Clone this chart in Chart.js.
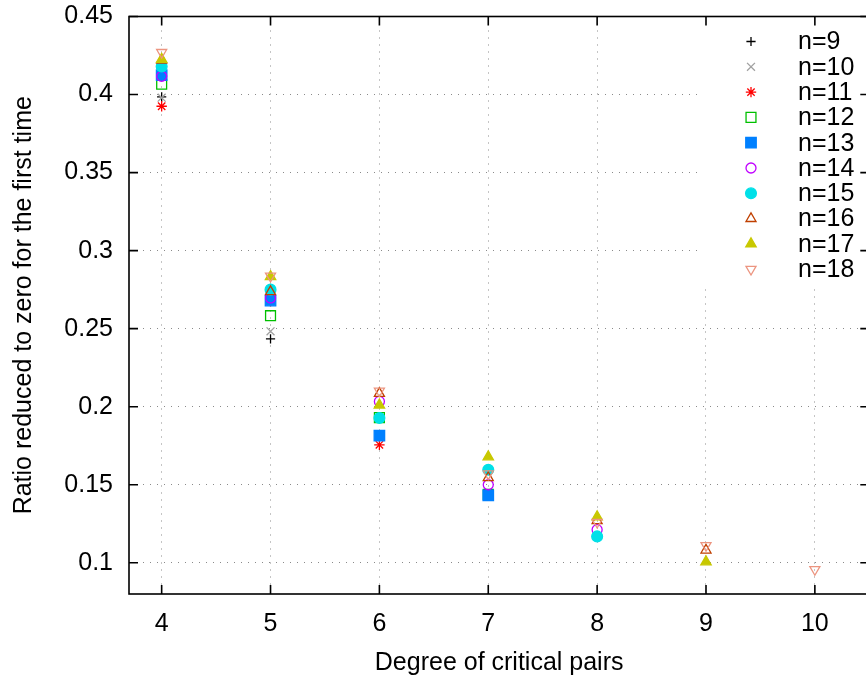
<!DOCTYPE html>
<html>
<head>
<meta charset="utf-8">
<title>Ratio reduced to zero for the first time</title>
<script src="https://cdn.jsdelivr.net/npm/chart.js@4/dist/chart.umd.min.js"></script>
<style>
  html, body { margin: 0; padding: 0; background: #ffffff; overflow: hidden; }
  #wrap { width: 866px; height: 677px; overflow: hidden; }
  #c { display: block; }
</style>
</head>
<body>
<div id="wrap"><canvas id="c" width="878" height="677"></canvas></div>
<script>
// Degree of critical pairs (x) and the ratio for each problem size n.
const degrees = [4, 5, 6, 7, 8, 9, 10];
const seriesNames = ['n=9', 'n=10', 'n=11', 'n=12', 'n=13', 'n=14', 'n=15', 'n=16', 'n=17', 'n=18'];
const n9  = [0.3985, 0.2434];
const n10 = [0.3980, 0.2483];
const n11 = [0.3925, 0.2675, 0.1756];
const n12 = [0.4066, 0.2583, 0.1930, 0.1438];
const n13 = [0.4124, 0.2680, 0.1814, 0.1432];
const n14 = [0.4117, 0.2697, 0.2034, 0.1500, 0.1212];
const n15 = [0.4180, 0.2750, 0.1928, 0.1596, 0.1169];
const n16 = [0.4220, 0.2737, 0.2085, 0.1545, 0.1270, 0.1081];
const n17 = [0.4226, 0.2833, 0.2011, 0.1679, 0.1295, 0.1006];
const n18 = [0.4270, 0.2837, 0.2101, 0.1570, 0.1260, 0.1111, 0.0957];
const seriesValues = [n9, n10, n11, n12, n13, n14, n15, n16, n17, n18];

const xTicks = [4, 5, 6, 7, 8, 9, 10];
const yTicks = [0.1, 0.15, 0.2, 0.25, 0.3, 0.35, 0.4, 0.45];

// Marker look for each series, in the same order as seriesNames.
const markers = [
  { color: '#000000', style: 'cross',    radius: 4.6, fill: false },
  { color: '#a0a0a0', style: 'crossRot', radius: 5.6, fill: false },
  { color: '#ff0000', style: 'star',     radius: 5.2, fill: false },
  { color: '#00c000', style: 'rect',     radius: 7.0, fill: false },
  { color: '#0080ff', style: 'rect',     radius: 7.4, fill: true  },
  { color: '#c000ff', style: 'circle',   radius: 5.0, fill: false },
  { color: '#00e0e8', style: 'circle',   radius: 5.4, fill: true  },
  { color: '#c04000', style: 'triangle', radius: 5.8, fill: false },
  { color: '#c8c800', style: 'triangle', radius: 6.0, fill: true  },
  { color: '#ec9580', style: 'triangle', radius: 5.8, fill: false, rotation: 180 }
];

const FONT = '"Liberation Sans", Helvetica, Arial, sans-serif';
const FONT_SIZE = 25;
Chart.defaults.font.family = FONT;
Chart.defaults.font.size = FONT_SIZE;
Chart.defaults.color = '#000000';

const datasets = seriesValues.map((vals, i) => {
  const m = markers[i];
  return {
    label: seriesNames[i],
    data: vals.map((v, k) => ({ x: degrees[k], y: v })).filter(p => p.y !== null && p.y !== undefined),
    showLine: false,
    pointStyle: m.style,
    pointRadius: m.radius,
    pointHoverRadius: m.radius,
    pointRotation: m.rotation || 0,
    pointBorderWidth: 1.3,
    pointBorderColor: m.color,
    pointBackgroundColor: m.fill ? m.color : 'rgba(0,0,0,0)',
    order: seriesValues.length - i   // later series are painted on top
  };
});

// White key area inside the plot, so grid lines stop at the key.
const KEY = { left: 700, bottom: 284, symbolX: 751, textX: 798, firstRowY: 41.5, rowStep: 25.3 };

const keyAndFrame = {
  id: 'keyAndFrame',
  beforeDatasetsDraw(chart) {
    const { ctx, chartArea } = chart;
    ctx.save();
    ctx.fillStyle = '#ffffff';
    ctx.fillRect(KEY.left, chartArea.top + 1, chartArea.right - KEY.left, KEY.bottom - chartArea.top - 1);
    ctx.restore();
  },
  afterDatasetsDraw(chart) {
    const { ctx, chartArea, scales } = chart;
    const { left, right, top, bottom } = chartArea;
    ctx.save();

    // Key entries
    ctx.font = FONT_SIZE + 'px ' + FONT;
    ctx.textAlign = 'left';
    ctx.textBaseline = 'middle';
    chart.data.datasets.forEach((ds, i) => {
      const y = KEY.firstRowY + i * KEY.rowStep;
      const m = markers[i];
      ctx.lineWidth = 1.3;
      ctx.strokeStyle = m.color;
      ctx.fillStyle = m.fill ? m.color : 'rgba(0,0,0,0)';
      Chart.helpers.drawPoint(ctx, {
        pointStyle: m.style, rotation: m.rotation || 0, radius: m.radius, borderWidth: 1.3
      }, KEY.symbolX, y);
      ctx.fillStyle = '#000000';
      ctx.fillText(ds.label, KEY.textX, y + 1);
    });

    // Frame and inward tick marks on all four sides
    const tick = 9;
    ctx.strokeStyle = '#000000';
    ctx.lineWidth = 1.6;
    ctx.beginPath();
    scales.x.ticks.forEach(t => {
      const px = scales.x.getPixelForValue(t.value);
      ctx.moveTo(px, bottom); ctx.lineTo(px, bottom - tick);
      ctx.moveTo(px, top);    ctx.lineTo(px, top + tick);
    });
    scales.y.ticks.forEach(t => {
      const py = scales.y.getPixelForValue(t.value);
      ctx.moveTo(left, py);  ctx.lineTo(left + tick, py);
      ctx.moveTo(right, py); ctx.lineTo(right - tick, py);
    });
    ctx.stroke();
    ctx.strokeRect(left, top, right - left, bottom - top);
    ctx.restore();
  }
};

const gridStyle = { color: '#8a8a8a', lineWidth: 1, drawTicks: false };
const borderStyle = { display: false, dash: [1, 6] };

new Chart(document.getElementById('c'), {
  type: 'scatter',
  data: { datasets },
  options: {
    responsive: false,
    animation: false,
    events: [],
    layout: { padding: { top: 16.5, right: 0.5, left: 0, bottom: 0 } },
    plugins: {
      legend: { display: false },
      tooltip: { enabled: false }
    },
    scales: {
      x: {
        type: 'linear',
        min: 3.7,
        max: 10.5,
        afterBuildTicks(scale) { scale.ticks = xTicks.map(v => ({ value: v })); },
        afterFit(scale) { scale.height = 83; scale.paddingLeft = 0; scale.paddingRight = 0; },
        grid: gridStyle,
        border: borderStyle,
        ticks: {
          padding: 15,
          maxRotation: 0,
          autoSkip: false,
          color: '#000000',
          font: { size: FONT_SIZE },
          callback: v => String(v)
        },
        title: {
          display: true,
          text: 'Degree of critical pairs',
          color: '#000000',
          font: { size: FONT_SIZE, lineHeight: 1 },
          padding: { top: 0, bottom: 1 }
        }
      },
      y: {
        type: 'linear',
        min: 0.08,
        max: 0.45,
        afterBuildTicks(scale) { scale.ticks = yTicks.map(v => ({ value: v })); },
        afterFit(scale) { scale.width = 129; scale.paddingTop = 0; scale.paddingBottom = 0; },
        grid: gridStyle,
        border: borderStyle,
        ticks: {
          padding: 16,
          autoSkip: false,
          color: '#000000',
          font: { size: FONT_SIZE },
          callback: v => String(+v.toFixed(2))
        },
        title: {
          display: true,
          text: 'Ratio reduced to zero for the first time',
          color: '#000000',
          font: { size: FONT_SIZE },
          padding: { top: 9, bottom: 0 }
        }
      }
    }
  },
  plugins: [keyAndFrame]
});
</script>
</body>
</html>
